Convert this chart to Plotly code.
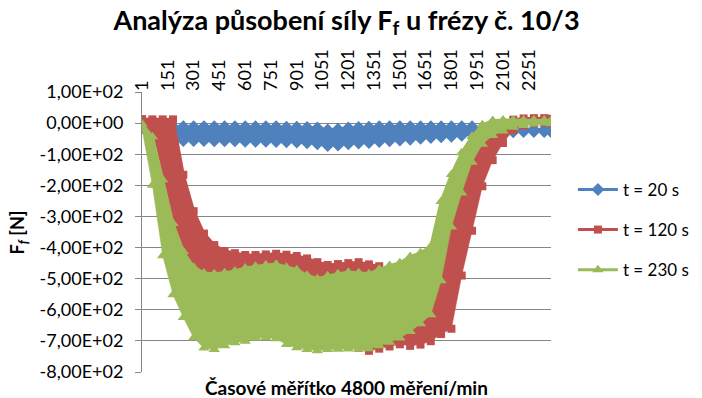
import plotly.graph_objects as go

# Category positions (measurement index) at which the band envelopes were read
CATS = [1, 61, 121, 181, 241, 301, 361, 421, 481, 541, 601, 661, 721, 781, 841,
        901, 961, 1021, 1081, 1141, 1201, 1261, 1321, 1381, 1441, 1501, 1561,
        1621, 1681, 1741, 1801, 1861, 1921, 1981, 2041, 2101, 2161, 2221, 2281,
        2341, 2380]

# t = 20 s : upper / lower envelope of the oscillating force [N]
BLUE_UPPER = [-5, -10, -12, -12, -12, -12, -12, -12, -12, -12, -12, -12, -12, -12,
              -13, -13, -14, -16, -22, -20, -16, -14, -13, -12, -12, -12, -12, -12,
              -12, -12, -12, -12, -12, -14, -18, -20, -21, -21, -21, -21, -21]
BLUE_LOWER = [-15, -40, -50, -55, -56, -56, -56, -57, -57, -57, -58, -58, -58, -59,
              -60, -61, -63, -66, -72, -70, -66, -64, -62, -59, -57, -54, -52, -49,
              -46, -44, -42, -39, -36, -33, -30, -29, -28, -27, -27, -27, -27]

# t = 120 s
RED_UPPER = [13, 12, 12, 12, -166, -283, -355, -392, -411, -418, -424, -424, -422,
             -420, -423, -427, -435, -447, -456, -453, -450, -447, -454, -460, -478,
             -471, -458, -446, -436, -388, -275, -195, -98, -50, -21, -2, 11, 15, 16,
             16, 14]
RED_LOWER = [-5, -24, -170, -314, -555, -651, -699, -703, -696, -690, -686, -683,
             -683, -683, -686, -693, -699, -706, -712, -716, -719, -722, -732, -725,
             -718, -711, -716, -712, -701, -678, -661, -490, -346, -203, -119, -64,
             -22, -8, 0, 2, 0]

# t = 230 s
GREEN_UPPER = [-3, -44, -182, -323, -413, -463, -482, -484, -481, -475, -466, -460,
               -456, -454, -463, -471, -489, -500, -491, -484, -479, -481, -484, -470,
               -458, -449, -429, -417, -396, -252, -165, -95, -43, -5, 8, 10, 10, 10,
               10, 10, 8]
GREEN_LOWER = [-20, -200, -426, -552, -625, -690, -723, -728, -716, -706, -701, -691,
               -690, -693, -712, -722, -728, -732, -728, -727, -726, -726, -725, -716,
               -704, -691, -670, -645, -616, -507, -334, -225, -126, -68, -40, -25,
               -13, -8, -3, 0, -2]

SERIES_NAMES = ["t = 20 s", "t = 120 s", "t = 230 s"]
X_TICKS = [1, 151, 301, 451, 601, 751, 901, 1051, 1201, 1351, 1501, 1651, 1801,
           1951, 2101, 2251]
Y_TICKS = [100, 0, -100, -200, -300, -400, -500, -600, -700, -800]
N_POINTS = 2380


def sci_comma(v):
    if v == 0:
        return "0,00E+00"
    s = "{:.2E}".format(v)
    mant, exp = s.split("E")
    sign = exp[0]
    e = int(exp[1:])
    return "{}E{}{:02d}".format(mant.replace(".", ","), sign, e)


FONT = "Lato"
GRID = "#868686"
styles = [
    ("#4F81BD", "diamond", 10),
    ("#C0504D", "square", 8),
    ("#9BBB59", "triangle-up", 10),
]
data = [(BLUE_UPPER, BLUE_LOWER), (RED_UPPER, RED_LOWER), (GREEN_UPPER, GREEN_LOWER)]

fig = go.Figure()
for name, (up, lo), (col, sym, sz) in zip(SERIES_NAMES, data, styles):
    fig.add_trace(go.Scatter(
        x=CATS + CATS[::-1], y=up + lo[::-1], mode="lines", fill="toself",
        fillcolor=col, line=dict(color=col, width=0.5), showlegend=False,
        legendgroup=name, hoverinfo="skip"))
    fig.add_trace(go.Scatter(
        x=CATS, y=lo, mode="markers",
        marker=dict(symbol=sym, size=sz, color=col, line=dict(width=0)),
        showlegend=False, legendgroup=name))
    fig.add_trace(go.Scatter(
        x=CATS, y=up, mode="lines+markers", name=name, legendgroup=name,
        line=dict(color=col, width=3),
        marker=dict(symbol=sym, size=sz, color=col, line=dict(width=0))))

# The page body has an 8px margin, so the figure is 8px smaller than the window.
fig.update_layout(
    width=694, height=390,
    margin=dict(l=134, r=151, t=84, b=26),
    paper_bgcolor="white", plot_bgcolor="white",
    font=dict(family=FONT, size=18, color="black"),
    title=dict(text="<b>Analýza působení síly F<sub>f</sub> u frézy č. 10/3</b>",
               x=0.5, xref="paper", xanchor="center",
               y=0.969, yref="container", yanchor="middle",
               font=dict(family=FONT, size=27, color="black")),
    xaxis=dict(range=[0.5, N_POINTS + 0.5], side="top", tickmode="array",
               tickvals=X_TICKS, ticktext=[str(t) for t in X_TICKS],
               tickangle=-90, showgrid=False, zeroline=False, showline=False,
               ticks="", tickfont=dict(family=FONT, size=18, color="black")),
    yaxis=dict(range=[-800, 100], tickmode="array", tickvals=Y_TICKS,
               ticktext=[sci_comma(v) for v in Y_TICKS],
               showgrid=True, gridcolor=GRID, gridwidth=1,
               zeroline=True, zerolinecolor=GRID, zerolinewidth=1,
               showline=True, linecolor=GRID, linewidth=1,
               ticks="outside", ticklen=6, tickcolor=GRID,
               ticklabelstandoff=8,
               tickfont=dict(family=FONT, size=18, color="black")),
    legend=dict(xref="container", yref="container", x=0.814, y=0.431,
                xanchor="left", yanchor="middle", tracegroupgap=15,
                itemwidth=40, font=dict(family=FONT, size=17, color="black"),
                bgcolor="rgba(0,0,0,0)"),
    showlegend=True,
    annotations=[
        dict(text="<b>Časové měřítko 4800 měření/min</b>", xref="paper", yref="paper",
             x=0.5, y=-0.055, xanchor="center", yanchor="middle", showarrow=False,
             font=dict(family=FONT, size=19, color="black")),
        dict(text="<b>F<sub><i>f</i></sub> [N]</b>", xref="paper", yref="paper",
             x=-0.302, y=0.5, xanchor="center", yanchor="middle", showarrow=False,
             textangle=-90, font=dict(family=FONT, size=18, color="black")),
    ],
)

fig.write_html("out.html")
